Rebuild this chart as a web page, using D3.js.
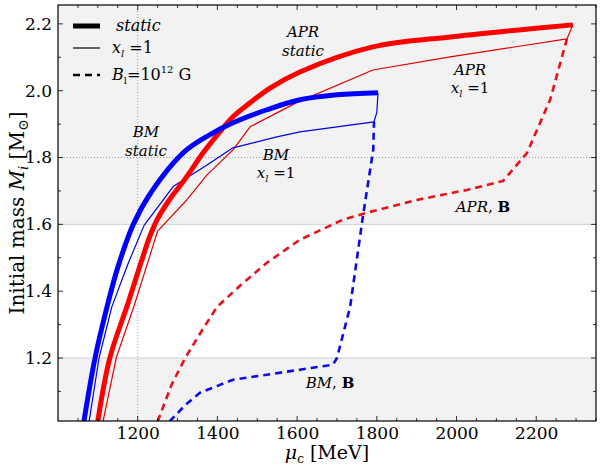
<!DOCTYPE html>
<html>
<head>
<meta charset="utf-8">
<script src="https://cdn.jsdelivr.net/npm/d3@7"></script>
<style>
  body { margin: 0; background: #fff; }
  svg text { font-family: "DejaVu Serif", "Liberation Serif", serif !important; }
</style>
</head>
<body>
<div id="chart-area"></div>
<script>
// ---- data (mu_c in MeV, initial mass in Msun) ----
var bmStaticMu   = [1065, 1093, 1123, 1151, 1189, 1236, 1314, 1376, 1439, 1524, 1607, 1700, 1803];
var bmStaticM    = [1.01, 1.2, 1.353, 1.475, 1.6, 1.7, 1.814, 1.865, 1.904, 1.943, 1.973, 1.988, 1.994];

var bmXlMu       = [1078, 1103, 1135, 1175, 1216, 1289, 1374, 1439, 1549, 1607, 1793, 1800, 1803];
var bmXlM        = [1.01, 1.2, 1.353, 1.48, 1.597, 1.713, 1.778, 1.829, 1.862, 1.877, 1.907, 1.935, 1.994];

var bmBMu        = [1280, 1320, 1356, 1439, 1607, 1690, 1700, 1733, 1765, 1791, 1793];
var bmBM         = [1.01, 1.06, 1.096, 1.135, 1.165, 1.18, 1.2, 1.353, 1.623, 1.823, 1.907];

var aprStaticMu  = [1100, 1130, 1176, 1208, 1231, 1251, 1281, 1319, 1366, 1402, 1439, 1482, 1532, 1607, 1790, 1984, 2150, 2292];
var aprStaticM   = [1.012, 1.2, 1.365, 1.485, 1.566, 1.619, 1.676, 1.736, 1.817, 1.871, 1.922, 1.964, 2.008, 2.056, 2.131, 2.161, 2.181, 2.197];

var aprXlMu      = [1113, 1146, 1192, 1250, 1323, 1374, 1439, 1482, 1600, 1790, 1984, 2277, 2292];
var aprXlM       = [1.01, 1.2, 1.36, 1.58, 1.673, 1.748, 1.823, 1.892, 1.965, 2.062, 2.101, 2.155, 2.197];

var aprBMu       = [1250, 1285, 1319, 1360, 1399, 1460, 1524, 1607, 1715, 1775, 1900, 2026, 2117, 2177, 2235, 2277];
var aprBM        = [1.01, 1.12, 1.2, 1.28, 1.353, 1.42, 1.485, 1.554, 1.614, 1.635, 1.673, 1.703, 1.73, 1.814, 1.973, 2.155];

var xTicks = [1200, 1400, 1600, 1800, 2000, 2200];
var yTicks = [1.2, 1.4, 1.6, 1.8, 2.0, 2.2];

function pairs(xs, ys) { return xs.map(function (x, i) { return [x, ys[i]]; }); }

var margin = { left: 58, right: 4, top: 5, bottom: 44 },
    width = 600 - margin.left - margin.right,
    height = 465 - margin.top - margin.bottom;

var svg = d3.select("#chart-area").append("svg")
    .attr("width", 600)
    .attr("height", 465)
    .attr("font-family", "DejaVu Serif, serif");

var g = svg.append("g")
    .attr("transform", "translate(" + margin.left + "," + margin.top + ")");

var x = d3.scaleLinear().domain([1000, 2350]).range([0, width]);
var y = d3.scaleLinear().domain([1.0115, 2.2565]).range([height, 0]);

// shaded bands
g.append("rect")
    .attr("x", 0).attr("y", 0)
    .attr("width", width).attr("height", y(1.6))
    .attr("fill", "#f2f2f2");
g.append("rect")
    .attr("x", 0).attr("y", y(1.2))
    .attr("width", width).attr("height", height - y(1.2))
    .attr("fill", "#f2f2f2");
[1.2, 1.6].forEach(function (v) {
    g.append("line")
        .attr("x1", 0).attr("x2", width)
        .attr("y1", y(v)).attr("y2", y(v))
        .attr("stroke", "#cfcfcf").attr("stroke-width", 1);
});

// dotted reference lines
g.append("line")
    .attr("x1", x(1200)).attr("x2", x(1200))
    .attr("y1", 0).attr("y2", height)
    .attr("stroke", "#888").attr("stroke-width", 0.8)
    .attr("stroke-dasharray", "1,2");
g.append("line")
    .attr("x1", 0).attr("x2", width)
    .attr("y1", y(1.8)).attr("y2", y(1.8))
    .attr("stroke", "#888").attr("stroke-width", 0.8)
    .attr("stroke-dasharray", "1,2");

// curves
var line = d3.line()
    .x(function (d) { return x(d[0]); })
    .y(function (d) { return y(d[1]); });
var smooth = d3.line()
    .curve(d3.curveCatmullRom.alpha(0.5))
    .x(function (d) { return x(d[0]); })
    .y(function (d) { return y(d[1]); });

svg.append("clipPath").attr("id", "clip")
    .append("rect").attr("width", width).attr("height", height);

var curves = g.append("g").attr("clip-path", "url(#clip)");

function drawCurve(gen, data, color, w, dash) {
    curves.append("path")
        .attr("d", gen(data))
        .attr("fill", "none")
        .attr("stroke", color)
        .attr("stroke-width", w)
        .attr("stroke-linejoin", "round")
        .attr("stroke-dasharray", dash || null);
}

drawCurve(line, pairs(aprBMu, aprBM), "#e8101a", 2.6, "7,5");
drawCurve(line, pairs(bmBMu, bmBM), "#0a0ae6", 2.6, "7,5");
drawCurve(line, pairs(aprXlMu, aprXlM), "#e00000", 1.2);
drawCurve(line, pairs(bmXlMu, bmXlM), "#0000e0", 1.2);
drawCurve(smooth, pairs(aprStaticMu, aprStaticM), "#ff0000", 5);
drawCurve(smooth, pairs(bmStaticMu, bmStaticM), "#0000ff", 5);

// axes with inward ticks
var xAxisCall = d3.axisBottom(x).tickValues(xTicks).tickSize(0).tickPadding(6)
    .tickFormat(d3.format("d"));
var yAxisCall = d3.axisLeft(y).tickValues(yTicks).tickSize(0).tickPadding(6)
    .tickFormat(d3.format(".1f"));

var xAxis = g.append("g").attr("transform", "translate(0," + height + ")").call(xAxisCall);
var yAxis = g.append("g").call(yAxisCall);
[xAxis, yAxis].forEach(function (a) {
    a.attr("font-family", "DejaVu Serif, serif");
    a.select(".domain").remove();
    a.selectAll("text").attr("font-size", 17).attr("fill", "#000");
});

var ticks = g.append("g").attr("stroke", "#000").attr("stroke-width", 0.8);
d3.range(1050, 2351, 50).forEach(function (v) {
    var len = v % 200 === 0 ? 5 : 3;
    ticks.append("line").attr("x1", x(v)).attr("x2", x(v)).attr("y1", height).attr("y2", height - len);
    ticks.append("line").attr("x1", x(v)).attr("x2", x(v)).attr("y1", 0).attr("y2", len);
});
d3.range(1.1, 2.26, 0.1).forEach(function (v) {
    var len = Math.abs(v * 5 - Math.round(v * 5)) < 0.01 ? 5 : 3;
    ticks.append("line").attr("x1", 0).attr("x2", len).attr("y1", y(v)).attr("y2", y(v));
    ticks.append("line").attr("x1", width).attr("x2", width - len).attr("y1", y(v)).attr("y2", y(v));
});

g.append("rect")
    .attr("width", width).attr("height", height)
    .attr("fill", "none").attr("stroke", "#000").attr("stroke-width", 1.2);

// axis titles
var yTitle = svg.append("text")
    .attr("transform", "translate(24," + (margin.top + 208) + ") rotate(-90)")
    .attr("text-anchor", "middle")
    .attr("font-size", 20);
yTitle.append("tspan").text("Initial mass ");
yTitle.append("tspan").attr("font-style", "italic").text("M");
yTitle.append("tspan").attr("font-style", "italic").attr("font-size", 13).attr("dy", 4).text("i");
yTitle.append("tspan").attr("dy", -4).text(" [M");
yTitle.append("tspan").attr("font-size", 14).attr("dy", 4).text("⊙");
yTitle.append("tspan").attr("dy", -4).text("]");

var xTitle = svg.append("text")
    .attr("x", 327).attr("y", 459)
    .attr("text-anchor", "middle")
    .attr("font-size", 19);
xTitle.append("tspan").attr("font-style", "italic").text("μ");
xTitle.append("tspan").attr("font-size", 12).attr("dy", 4).text("c");
xTitle.append("tspan").attr("dy", -4).text(" [MeV]");

// legend
var legend = svg.append("g");
var legendRows = [
    { y: 26, w: 5, dash: null },
    { y: 48, w: 1.2, dash: null },
    { y: 75, w: 2.6, dash: "7,5" }
];
legendRows.forEach(function (r) {
    legend.append("line")
        .attr("x1", 73).attr("x2", 100)
        .attr("y1", r.y).attr("y2", r.y)
        .attr("stroke", "#000").attr("stroke-width", r.w)
        .attr("stroke-dasharray", r.dash);
});
legend.append("text").attr("x", 116).attr("y", 31).attr("font-size", 16)
    .attr("font-style", "italic").text("static");
var l2 = legend.append("text").attr("x", 112).attr("y", 53).attr("font-size", 16);
l2.append("tspan").attr("font-style", "italic").text("x");
l2.append("tspan").attr("font-style", "italic").attr("font-size", 10).attr("dy", 4).text("l");
l2.append("tspan").attr("dy", -4).text(" =1");
var l3 = legend.append("text").attr("x", 112).attr("y", 80).attr("font-size", 16);
l3.append("tspan").attr("font-style", "italic").text("B");
l3.append("tspan").attr("font-size", 10).attr("dy", 4).text("l");
l3.append("tspan").attr("dy", -4).text("=10");
l3.append("tspan").attr("font-size", 10).attr("dy", -7).text("12");
l3.append("tspan").attr("dy", 7).text(" G");

// annotations
function twoLine(cx, y1, first, y2, second) {
    svg.append("text").attr("x", cx).attr("y", y1).attr("text-anchor", "middle")
        .attr("font-size", 15).attr("font-style", "italic").text(first);
    if (second === "xl") {
        var t = svg.append("text").attr("x", cx).attr("y", y2).attr("text-anchor", "middle")
            .attr("font-size", 15);
        t.append("tspan").attr("font-style", "italic").text("x");
        t.append("tspan").attr("font-style", "italic").attr("font-size", 10).attr("dy", 4).text("l");
        t.append("tspan").attr("dy", -4).text(" =1");
    } else {
        svg.append("text").attr("x", cx).attr("y", y2).attr("text-anchor", "middle")
            .attr("font-size", 15).attr("font-style", "italic").text(second);
    }
}
twoLine(303, 37, "APR", 56, "static");
twoLine(470, 75, "APR", 93, "xl");
twoLine(146, 137, "BM", 156, "static");
twoLine(276, 160, "BM", 178, "xl");

function bLabel(cx, yy, name) {
    var t = svg.append("text").attr("x", cx).attr("y", yy).attr("text-anchor", "middle")
        .attr("font-size", 15);
    t.append("tspan").attr("font-style", "italic").text(name);
    t.append("tspan").text(", ");
    t.append("tspan").attr("font-weight", "bold").text("B");
}
bLabel(483, 212, "APR");
bLabel(330, 388, "BM");
</script>
</body>
</html>
